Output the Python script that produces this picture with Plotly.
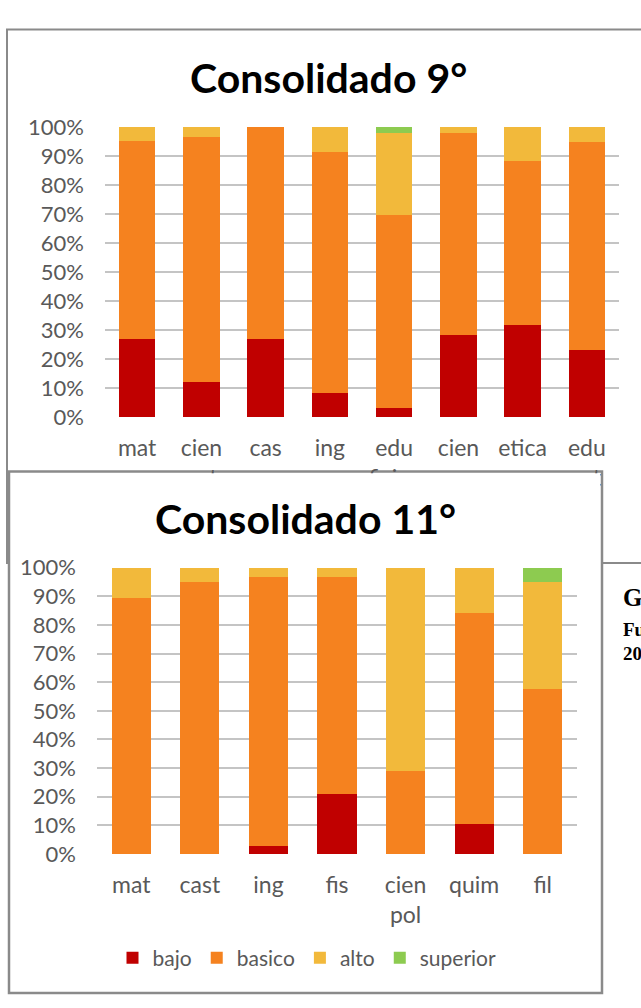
import plotly.graph_objects as go

# ---- data: grade 9 consolidated results (% of students per level) ----
cats9 = ["mat", "cien nat", "cas", "ing", "edu fisica", "cien soc", "etica", "edu art"]
ticks9 = ["mat", "cien<br>nat", "cas", "ing", "edu<br>fisica", "cien<br>soc", "etica", "edu<br>art"]
bajo9 = [26.7, 12.0, 26.7, 8.3, 3.2, 28.4, 31.8, 23.1]
basico9 = [68.3, 84.5, 73.3, 83.0, 66.5, 69.6, 56.5, 71.8]
alto9 = [5.0, 3.5, 0.0, 8.7, 28.3, 2.0, 11.7, 5.1]
superior9 = [0.0, 0.0, 0.0, 0.0, 2.0, 0.0, 0.0, 0.0]

# ---- data: grade 11 consolidated results ----
cats11 = ["mat", "cast", "ing", "fis", "cien pol", "quim", "fil"]
ticks11 = ["mat", "cast", "ing", "fis", "cien<br>pol", "quim", "fil"]
bajo11 = [0.0, 0.0, 2.6, 21.0, 0.0, 10.6, 0.0]
basico11 = [89.3, 94.9, 94.3, 75.9, 29.0, 73.5, 57.7]
alto11 = [10.7, 5.1, 3.1, 3.1, 71.0, 15.9, 37.2]
superior11 = [0.0, 0.0, 0.0, 0.0, 0.0, 0.0, 5.1]

# ---- shared percentage axis ----
pct_vals = [0, 10, 20, 30, 40, 50, 60, 70, 80, 90, 100]
pct_text = ["0%", "10%", "20%", "30%", "40%", "50%", "60%", "70%", "80%", "90%", "100%"]

levels = ["bajo", "basico", "alto", "superior"]
colors = {"bajo": "#C00000", "basico": "#F5821F", "alto": "#F2B93B", "superior": "#8DCB50"}

W, H = 641, 1008
FONT = "Lato"
TXT = "#595959"


def px(x):
    return x / W


def py(y):
    return 1 - y / H


fig = go.Figure()

series9 = dict(bajo=bajo9, basico=basico9, alto=alto9, superior=superior9)
series11 = dict(bajo=bajo11, basico=basico11, alto=alto11, superior=superior11)

for lv in levels:
    fig.add_trace(go.Bar(x=cats9, y=series9[lv], name=lv, marker_color=colors[lv],
                         marker_line_width=0, xaxis="x", yaxis="y",
                         legendgroup=lv, showlegend=False))
for lv in levels:
    fig.add_trace(go.Bar(x=cats11, y=series11[lv], name=lv, marker_color=colors[lv],
                         marker_line_width=0, xaxis="x2", yaxis="y2",
                         legendgroup=lv, showlegend=True))

yax = dict(range=[0, 100], tickmode="array", tickvals=pct_vals, ticktext=pct_text,
           showgrid=True, gridcolor="#C4C4C4", gridwidth=1.5, zeroline=False,
           showline=False, ticks="", ticklabelstandoff=20,
           tickfont=dict(family=FONT, size=22, color=TXT), fixedrange=True)
xax = dict(type="category", showgrid=False, zeroline=False, showline=False, ticks="",
           ticklabelstandoff=15, tickfont=dict(family=FONT, size=23, color=TXT),
           fixedrange=True)

fig.update_layout(
    width=W, height=H,
    margin=dict(l=0, r=0, t=0, b=0),
    paper_bgcolor="white", plot_bgcolor="rgba(0,0,0,0)",
    barmode="stack", bargap=0.43,
    xaxis=dict(xax, domain=[px(105), px(619)], anchor="y",
               tickmode="array", tickvals=cats9, ticktext=ticks9),
    yaxis=dict(yax, domain=[py(414), py(116)], anchor="x"),
    xaxis2=dict(xax, domain=[px(97), px(577)], anchor="y2",
                tickmode="array", tickvals=cats11, ticktext=ticks11),
    yaxis2=dict(yax, domain=[py(863), py(569)], anchor="x2"),
    showlegend=True,
    legend=dict(orientation="h", x=px(307), xanchor="center", y=py(970), yanchor="middle",
                font=dict(family=FONT, size=21, color=TXT), bgcolor="rgba(0,0,0,0)",
                traceorder="normal"),
)

# chart frames: the grade 11 panel sits on top of the grade 9 panel
fig.add_shape(type="rect", xref="paper", yref="paper", layer="below",
              x0=px(7), x1=px(700), y0=py(564), y1=py(16),
              line=dict(color="#8A8A8A", width=2), fillcolor="white")
fig.add_shape(type="rect", xref="paper", yref="paper", layer="below",
              x0=px(9), x1=px(602), y0=py(1006), y1=py(470),
              line=dict(color="#8A8A8A", width=2.5), fillcolor="white")
fig.add_shape(type="rect", xref="paper", yref="paper", layer="above",
              x0=px(11), x1=px(600), y0=py(548), y1=py(472),
              line=dict(width=0), fillcolor="white")

fig.add_annotation(text="<b>Consolidado 9°</b>", xref="paper", yref="paper",
                   x=px(328), y=py(65), xanchor="center", yanchor="middle", showarrow=False,
                   font=dict(family=FONT, size=41, color="black"))
fig.add_annotation(text="<b>Consolidado 11°</b>", xref="paper", yref="paper",
                   x=px(305), y=py(518), xanchor="center", yanchor="middle", showarrow=False,
                   font=dict(family=FONT, size=41, color="black"))

# caption text of the surrounding page, running off the right edge
for txt, y, size in [("<b>Gráfica</b>", 600, 25), ("<b>Fuente:</b>", 632, 19), ("<b>2019</b>", 657, 19)]:
    fig.add_annotation(text=txt, xref="paper", yref="paper", x=px(621), y=py(y),
                       xanchor="left", yanchor="middle", showarrow=False,
                       font=dict(family="Liberation Serif", size=size, color="black"))

fig.write_html("out.html")
